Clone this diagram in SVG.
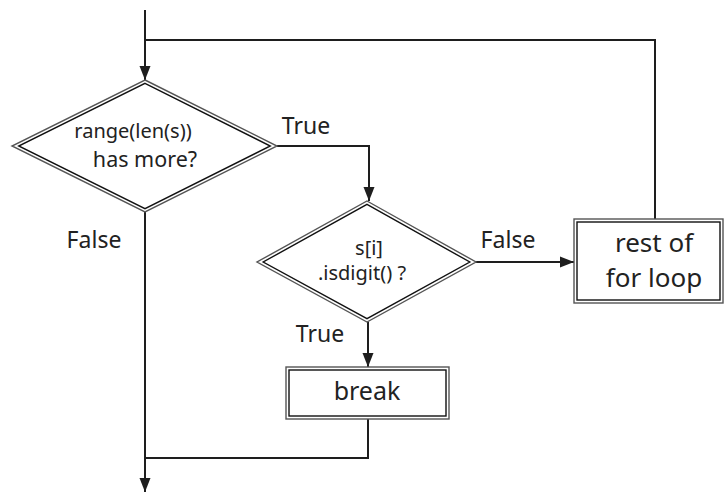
<svg xmlns="http://www.w3.org/2000/svg" width="724" height="493" viewBox="0 0 724 493">
<defs>
<style>
.ln{fill:none;stroke:#1e1e1e;stroke-width:2}
.o{fill:#fff;stroke:#555;stroke-width:1.4}
.i{fill:none;stroke:#111;stroke-width:1.4}
.t{font-family:"Noto Sans","Open Sans",sans-serif;fill:#222;text-anchor:middle}
</style>
<marker id="ah" viewBox="0 0 14 16" refX="14" refY="8" markerWidth="14" markerHeight="16" markerUnits="userSpaceOnUse" orient="auto">
<path d="M0,2.5 L14,8 L0,13.5 z" fill="#1e1e1e"/>
</marker>
</defs>
<g id="connectors">
<path class="ln" d="M145,10 V80" marker-end="url(#ah)"/>
<path class="ln" d="M655,219 V40 H145"/>
<path class="ln" d="M277,146 H369 V201" marker-end="url(#ah)"/>
<path class="ln" d="M476,262 H574" marker-end="url(#ah)"/>
<path class="ln" d="M368,322 V367" marker-end="url(#ah)"/>
<path class="ln" d="M368,419 V458 H145"/>
<path class="ln" d="M145,212 V492" marker-end="url(#ah)"/>
<text class="t" x="306" y="134" font-size="23">True</text>
<text class="t" x="94" y="248" font-size="23">False</text>
<text class="t" x="508" y="248" font-size="23">False</text>
<text class="t" x="320" y="342" font-size="23">True</text>
</g>
<g id="d1">
<polygon class="o" points="145,80 277,146 145,212 12,146"/>
<polygon class="i" points="145,83.4 270.3,146 145,208.6 18.7,146"/>
<text class="t" x="133" y="138" font-size="20">range(len(s))</text>
<text class="t" x="145" y="167" font-size="21.5">has more?</text>
</g>
<g id="d2">
<polygon class="o" points="367,201 476,262 367,322 257,262"/>
<polygon class="i" points="367,204.4 469.8,262 367,318.6 263.2,262"/>
<text class="t" x="369" y="255" font-size="20">s[i]</text>
<text class="t" x="362" y="280" font-size="20">.isdigit() ?</text>
</g>
<g id="rest">
<rect class="o" x="574" y="219" width="149" height="84"/>
<rect class="i" x="577" y="222" width="143" height="78"/>
<text class="t" x="654" y="252" font-size="26">rest of</text>
<text class="t" x="654" y="287" font-size="26">for loop</text>
</g>
<g id="brk">
<rect class="o" x="286" y="367" width="163" height="52"/>
<rect class="i" x="289" y="370" width="157" height="46"/>
<text class="t" x="367" y="400" font-size="25">break</text>
</g>
</svg>
